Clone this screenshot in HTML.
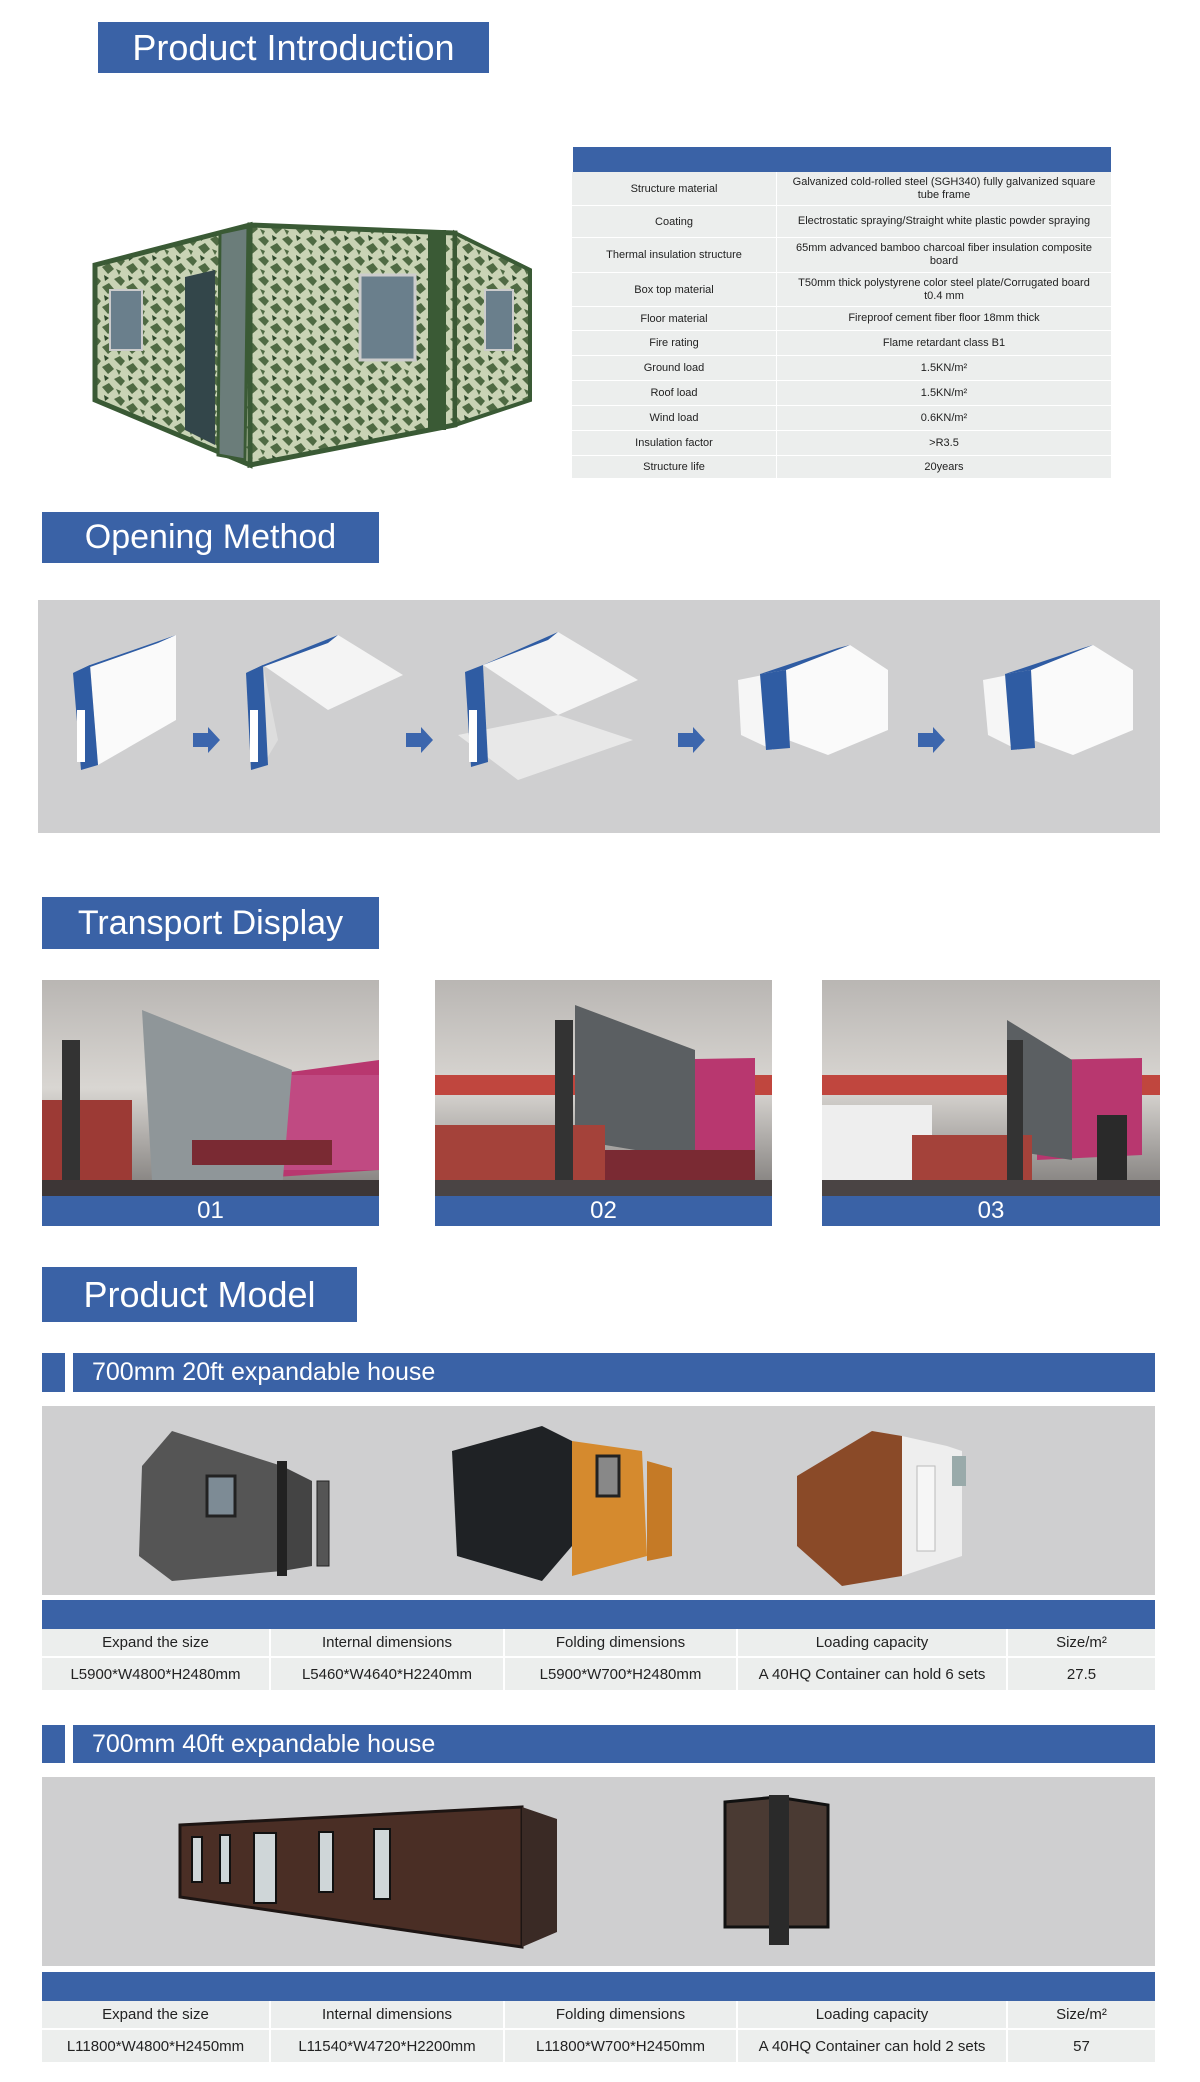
<!DOCTYPE html>
<html><head><meta charset="utf-8"><style>
*{margin:0;padding:0;box-sizing:border-box}
body{width:1200px;height:2082px;background:#fff;position:relative;font-family:"Liberation Sans",sans-serif;overflow:hidden}
.a{position:absolute}
.ban{position:absolute;background:#3a62a6;color:#fff;font-family:"Liberation Sans",sans-serif;font-weight:normal;display:flex;align-items:center;justify-content:center}
.tbl{position:absolute;left:572px;top:172px;width:539px}
.tbl div.r{display:flex;border-bottom:1px solid #fff;background:#eceeed;font-size:11px;color:#222;align-items:center;text-align:center}
.tbl .c1{width:205px;border-right:1px solid #fff;height:100%;display:flex;align-items:center;justify-content:center}
.tbl .c2{flex:1;display:flex;align-items:center;justify-content:center;height:100%;padding:0 14px;line-height:13px}
.spec{position:absolute;left:42px;width:1113px;font-size:15px;color:#222}
.spec .row{display:flex;background:#eceeed;border-bottom:2px solid #fff}
.spec .row div{display:flex;align-items:center;justify-content:center;border-right:2px solid #fff}
.sub{position:absolute;left:73px;width:1082px;background:#3a62a6;color:#fff;font-size:25px;padding-left:19px;display:flex;align-items:center}
.sq{position:absolute;left:42px;width:23px;background:#3a62a6}
.photo{position:absolute;top:980px;height:216px;overflow:hidden}
.lab{position:absolute;top:1196px;height:30px;background:#3a62a6;color:#fff;font-size:24px;display:flex;align-items:center;justify-content:center}
</style></head><body>

<div class="ban" style="left:98px;top:22px;width:391px;height:51px;font-size:36px">Product Introduction</div>

<svg class="a" style="left:90px;top:215px" width="450" height="260" viewBox="0 0 450 260">
<defs><pattern id="cam" width="24" height="20" patternUnits="userSpaceOnUse"><rect width="24" height="20" fill="#c9d3b5"/><path d="M0 4l6-3 5 5-4 5zM12 12l7-4 5 6-6 5zM2 14l5 2-2 4z" fill="#4f6a43"/><path d="M14 0l5 3-4 3z" fill="#2f4a2b"/></pattern></defs>
<polygon points="5,50 160,10 160,250 5,185" fill="url(#cam)" stroke="#3a5a35" stroke-width="5"/>
<polygon points="160,10 365,18 365,210 160,250" fill="url(#cam)" stroke="#3a5a35" stroke-width="5"/>
<polygon points="365,18 440,55 440,185 365,210" fill="url(#cam)" stroke="#3a5a35" stroke-width="4"/>
<polygon points="95,62 125,55 125,230 95,215" fill="#33464a"/>
<polygon points="130,18 158,12 155,245 128,240" fill="#6b7d7a" stroke="#3a5a35" stroke-width="3"/>
<rect x="270" y="60" width="55" height="85" fill="#6a7f8c" stroke="#ccc" stroke-width="3"/>
<rect x="20" y="75" width="32" height="60" fill="#6a7f8c" stroke="#ccc" stroke-width="2"/>
<rect x="395" y="75" width="28" height="60" fill="#6a7f8c" stroke="#ccc" stroke-width="2"/>
<rect x="338" y="15" width="18" height="200" fill="#3a5a35"/>
</svg>

<div class="a" style="left:573px;top:147px;width:538px;height:25px;background:#3a62a6"></div>
<div class="tbl">
<div class="r" style="height:34px"><div class="c1">Structure material</div><div class="c2">Galvanized cold-rolled steel (SGH340) fully galvanized square tube frame</div></div>
<div class="r" style="height:32px"><div class="c1">Coating</div><div class="c2">Electrostatic spraying/Straight white plastic powder spraying</div></div>
<div class="r" style="height:35px"><div class="c1">Thermal insulation structure</div><div class="c2">65mm advanced bamboo charcoal fiber insulation composite board</div></div>
<div class="r" style="height:34px"><div class="c1">Box top material</div><div class="c2">T50mm thick polystyrene color steel plate/Corrugated board t0.4 mm</div></div>
<div class="r" style="height:24px"><div class="c1">Floor material</div><div class="c2">Fireproof cement fiber floor 18mm thick</div></div>
<div class="r" style="height:25px"><div class="c1">Fire rating</div><div class="c2">Flame retardant class B1</div></div>
<div class="r" style="height:25px"><div class="c1">Ground load</div><div class="c2">1.5KN/m²</div></div>
<div class="r" style="height:25px"><div class="c1">Roof load</div><div class="c2">1.5KN/m²</div></div>
<div class="r" style="height:25px"><div class="c1">Wind load</div><div class="c2">0.6KN/m²</div></div>
<div class="r" style="height:25px"><div class="c1">Insulation factor</div><div class="c2">&gt;R3.5</div></div>
<div class="r" style="height:23px"><div class="c1">Structure life</div><div class="c2">20years</div></div>
</div>

<div class="ban" style="left:42px;top:512px;width:337px;height:51px;font-size:34px">Opening Method</div>
<div class="a" style="left:38px;top:600px;width:1122px;height:233px;background:#cfcfd0"></div>
<svg class="a" style="left:38px;top:600px" width="1122" height="233" viewBox="0 0 1122 233">
<g fill="#3c66ad">
<polygon points="155,133 170,133 170,127 182,140 170,153 170,147 155,147"/>
<polygon points="368,133 383,133 383,127 395,140 383,153 383,147 368,147"/>
<polygon points="640,133 655,133 655,127 667,140 655,153 655,147 640,147"/>
<polygon points="880,133 895,133 895,127 907,140 895,153 895,147 880,147"/>
</g>
<polygon points="52,65 138,35 138,120 60,165" fill="#fafafa"/><polygon points="35,73 52,65 60,165 43,170" fill="#2f5ca3"/><polygon points="35,73 120,43 138,35 52,65" fill="#2f5ca3"/><rect x="39" y="110" width="8" height="52" fill="#fff"/>
<polygon points="225,65 300,35 365,75 290,110" fill="#f4f4f4"/><polygon points="225,65 240,140 225,165" fill="#ddd"/><polygon points="208,73 225,65 230,165 213,170" fill="#2f5ca3"/><polygon points="208,73 290,43 300,35 225,65" fill="#2f5ca3"/><rect x="212" y="110" width="8" height="52" fill="#fff"/>
<polygon points="445,65 520,32 600,80 520,115" fill="#f4f4f4"/><polygon points="420,135 520,115 595,140 480,180" fill="#e8e8e8"/><polygon points="445,65 450,155 440,160" fill="#ddd"/><polygon points="427,72 445,65 450,162 433,167" fill="#2f5ca3"/><polygon points="427,72 510,40 520,32 445,65" fill="#2f5ca3"/><rect x="431" y="110" width="8" height="52" fill="#fff"/>
<polygon points="700,80 730,74 735,150 703,135" fill="#f6f6f6"/><polygon points="748,70 812,45 850,70 850,130 790,155 750,140" fill="#fafafa"/><polygon points="722,74 748,70 752,148 728,150" fill="#2f5ca3"/><polygon points="722,74 800,48 812,45 748,70" fill="#2f5ca3"/>
<polygon points="945,80 975,74 980,150 950,135" fill="#f6f6f6"/><polygon points="993,70 1055,45 1095,70 1095,130 1035,155 995,140" fill="#fafafa"/><polygon points="967,74 993,70 997,148 973,150" fill="#2f5ca3"/><polygon points="967,74 1045,48 1055,45 993,70" fill="#2f5ca3"/>
</svg>

<div class="ban" style="left:42px;top:897px;width:337px;height:52px;font-size:34px">Transport Display</div>

<svg width="0" height="0" style="position:absolute"><defs>
<linearGradient id="wh" x1="0" y1="0" x2="0" y2="1"><stop offset="0" stop-color="#b9b6b3"/><stop offset="0.5" stop-color="#d9d6d2"/><stop offset="1" stop-color="#7d7a78"/></linearGradient>
</defs></svg>
<div class="photo" style="left:42px;width:337px"><svg width="337" height="216"><rect width="337" height="216" fill="url(#wh)"/><polygon points="190,100 337,80 337,190 190,200" fill="#b8376f"/><rect x="240" y="95" width="97" height="95" fill="#c04a82"/><polygon points="100,30 250,90 240,210 110,200" fill="#8f9699"/><rect x="0" y="120" width="90" height="96" fill="#9c3a35"/><rect x="20" y="60" width="18" height="150" fill="#333"/><rect x="0" y="200" width="337" height="16" fill="#3d3636"/><rect x="150" y="160" width="140" height="25" fill="#7a2a33"/></svg></div>
<div class="photo" style="left:435px;width:337px"><svg width="337" height="216"><rect width="337" height="216" fill="url(#wh)"/><rect x="0" y="95" width="337" height="20" fill="#c0463e"/><polygon points="200,80 320,78 320,175 200,180" fill="#b8376f"/><polygon points="140,25 260,70 260,180 140,160" fill="#5b5f62"/><rect x="0" y="145" width="170" height="71" fill="#a4423a"/><rect x="120" y="40" width="18" height="170" fill="#333"/><rect x="170" y="170" width="150" height="30" fill="#7a2a33"/><rect x="0" y="200" width="337" height="16" fill="#4a4444"/></svg></div>
<div class="photo" style="left:822px;width:338px"><svg width="338" height="216"><rect width="338" height="216" fill="url(#wh)"/><rect x="0" y="95" width="338" height="20" fill="#c0463e"/><polygon points="215,80 320,78 320,175 215,180" fill="#b8376f"/><rect x="0" y="125" width="110" height="80" fill="#eee"/><polygon points="185,40 250,80 250,180 185,170" fill="#5b5f62"/><rect x="90" y="155" width="120" height="61" fill="#a4423a"/><rect x="185" y="60" width="16" height="150" fill="#333"/><rect x="275" y="135" width="30" height="80" fill="#2a2a2a"/><rect x="0" y="200" width="338" height="16" fill="#4a4444"/></svg></div>
<div class="lab" style="left:42px;width:337px">01</div>
<div class="lab" style="left:435px;width:337px">02</div>
<div class="lab" style="left:822px;width:338px">03</div>

<div class="ban" style="left:42px;top:1267px;width:315px;height:55px;font-size:36px">Product Model</div>

<div class="sq" style="top:1353px;height:39px"></div>
<div class="sub" style="top:1353px;height:39px">700mm 20ft expandable house</div>
<div class="a" style="left:42px;top:1406px;width:1113px;height:189px;background:#cfcfd0"></div>
<svg class="a" style="left:42px;top:1406px" width="1113" height="189" viewBox="0 0 1113 189">
<polygon points="100,60 130,25 240,60 240,165 130,175 97,150" fill="#555"/><polygon points="240,60 270,75 270,160 240,165" fill="#444"/><rect x="165" y="70" width="28" height="40" fill="#7d8b95" stroke="#222" stroke-width="3"/><rect x="235" y="55" width="10" height="115" fill="#222"/><rect x="275" y="75" width="12" height="85" fill="#555" stroke="#222"/>
<polygon points="410,45 500,20 530,35 530,140 500,175 415,150" fill="#1f2225"/><polygon points="530,35 600,45 605,150 530,170" fill="#d58a2e"/><rect x="555" y="50" width="22" height="40" fill="#888" stroke="#222" stroke-width="3"/><polygon points="605,55 630,62 630,150 605,155" fill="#c57a26"/>
<polygon points="755,70 830,25 860,30 860,170 800,180 755,140" fill="#8a4a28"/><polygon points="860,30 905,40 920,45 920,150 860,170" fill="#eee"/><rect x="875" y="60" width="18" height="85" fill="#f6f6f6" stroke="#bbb"/><rect x="910" y="50" width="14" height="30" fill="#9aa"/>
</svg>
<div class="a" style="left:42px;top:1600px;width:1113px;height:29px;background:#3a62a6"></div>
<div class="spec" style="top:1629px">
<div class="row" style="height:29px"><div style="width:229px">Expand the size</div><div style="width:234px">Internal dimensions</div><div style="width:233px">Folding dimensions</div><div style="width:270px">Loading capacity</div><div style="flex:1;border-right:none">Size/m²</div></div>
<div class="row" style="height:34px"><div style="width:229px">L5900*W4800*H2480mm</div><div style="width:234px">L5460*W4640*H2240mm</div><div style="width:233px">L5900*W700*H2480mm</div><div style="width:270px">A 40HQ Container can hold 6 sets</div><div style="flex:1;border-right:none">27.5</div></div>
</div>

<div class="sq" style="top:1725px;height:38px"></div>
<div class="sub" style="top:1725px;height:38px">700mm 40ft expandable house</div>
<div class="a" style="left:42px;top:1777px;width:1113px;height:189px;background:#cfcfd0"></div>
<svg class="a" style="left:42px;top:1777px" width="1113" height="189" viewBox="0 0 1113 189">
<polygon points="138,48 480,30 480,170 410,160 138,120" fill="#4a2e25" stroke="#1d1513" stroke-width="3"/><polygon points="480,30 515,42 515,155 480,170" fill="#3a2a25"/>
<g fill="#cfd6d8" stroke="#111" stroke-width="2"><rect x="150" y="60" width="10" height="45"/><rect x="178" y="58" width="10" height="48"/><rect x="212" y="56" width="22" height="70"/><rect x="277" y="55" width="14" height="60"/><rect x="332" y="52" width="16" height="70"/></g>
<polygon points="683,25 735,20 786,28 786,150 683,150" fill="#4a3a33" stroke="#111" stroke-width="3"/><rect x="727" y="18" width="20" height="150" fill="#2a2a2a"/>
</svg>
<div class="a" style="left:42px;top:1972px;width:1113px;height:29px;background:#3a62a6"></div>
<div class="spec" style="top:2001px">
<div class="row" style="height:29px"><div style="width:229px">Expand the size</div><div style="width:234px">Internal dimensions</div><div style="width:233px">Folding dimensions</div><div style="width:270px">Loading capacity</div><div style="flex:1;border-right:none">Size/m²</div></div>
<div class="row" style="height:34px"><div style="width:229px">L11800*W4800*H2450mm</div><div style="width:234px">L11540*W4720*H2200mm</div><div style="width:233px">L11800*W700*H2450mm</div><div style="width:270px">A 40HQ Container can hold 2 sets</div><div style="flex:1;border-right:none">57</div></div>
</div>
</body></html>
